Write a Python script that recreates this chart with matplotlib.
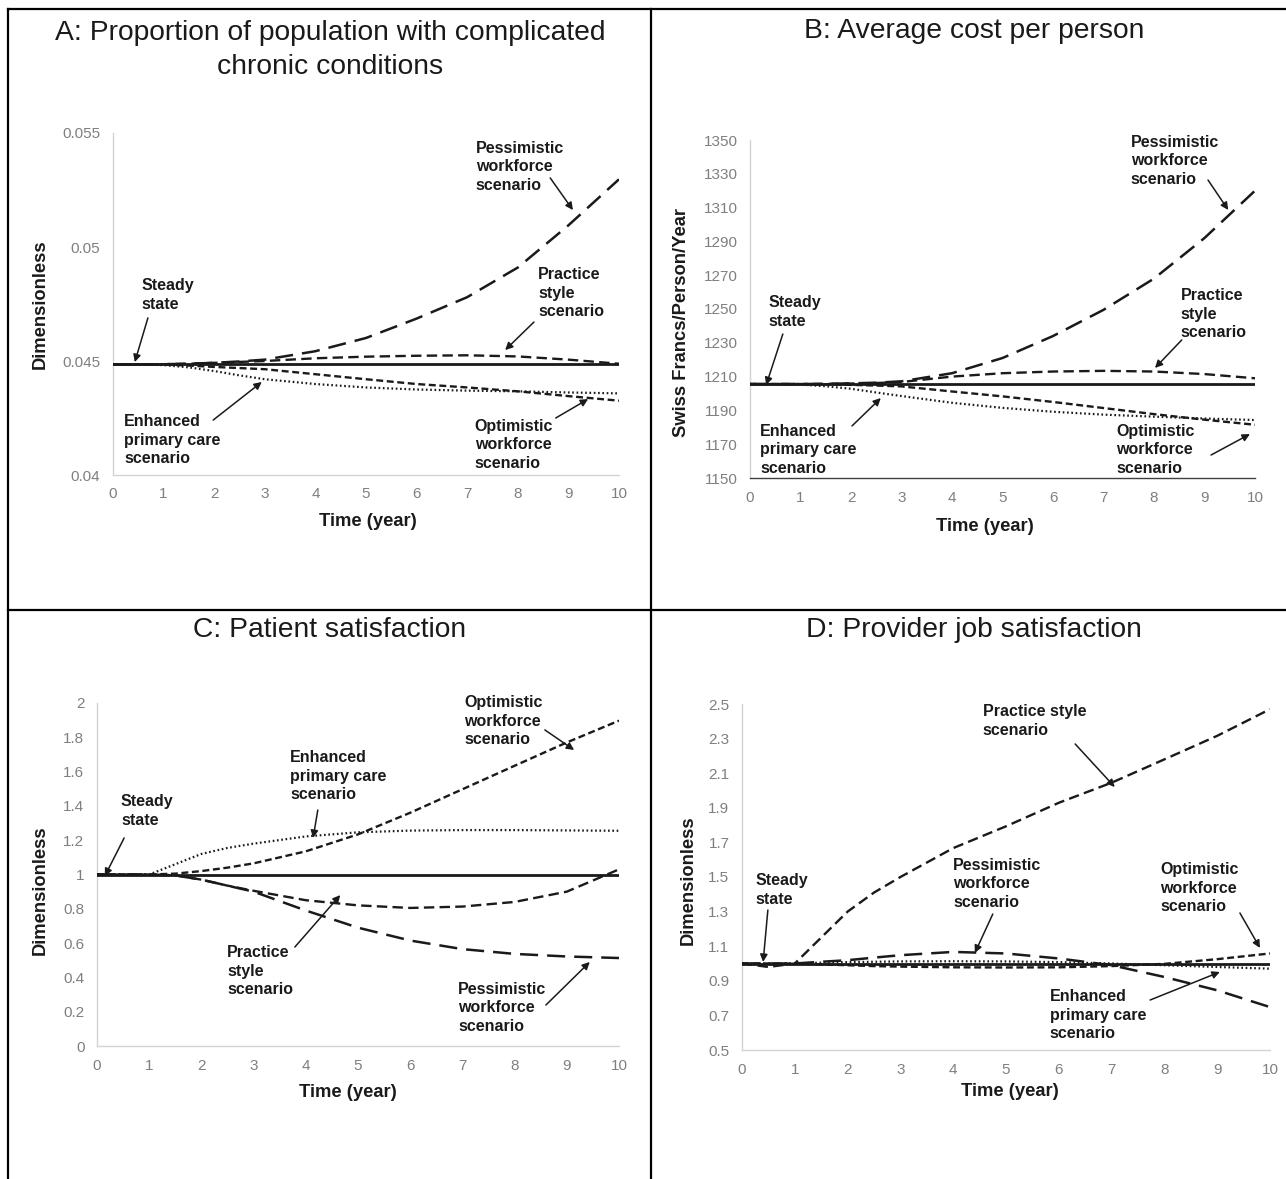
import numpy as np
import matplotlib
matplotlib.use('Agg')
import matplotlib.pyplot as plt
from matplotlib.lines import Line2D

plt.rcParams['font.family'] = ['Liberation Sans', 'DejaVu Sans']
plt.rcParams['lines.scale_dashes'] = False

#--------------------------------------------------------------------------------
# values
years = [0, 0.5, 1, 1.5, 2, 2.5, 3, 4, 5, 6, 7, 8, 9, 10]

# A: proportion with complicated chronic conditions
a_steady   = [0.04485]*14
a_pess     = [0.04485, 0.04485, 0.04486, 0.04488, 0.04492, 0.04498, 0.04506,
              0.04543, 0.04601, 0.04686, 0.04780, 0.04910, 0.05095, 0.05297]
a_practice = [0.04485, 0.04485, 0.04486, 0.04488, 0.04492, 0.04496, 0.04500,
              0.04512, 0.04519, 0.04523, 0.04525, 0.04520, 0.04506, 0.04488]
a_opt      = [0.04485, 0.04485, 0.04484, 0.04480, 0.04474, 0.04469, 0.04464,
              0.04442, 0.04420, 0.04399, 0.04384, 0.04367, 0.04346, 0.04326]
a_enh      = [0.04485, 0.04485, 0.04482, 0.04472, 0.04456, 0.04437, 0.04420,
              0.04399, 0.04384, 0.04375, 0.04370, 0.04367, 0.04362, 0.04358]

# B: average cost per person
b_steady   = [1205.6]*14
b_pess     = [1205.6, 1205.6, 1205.6, 1205.7, 1206.0, 1206.4, 1207.2,
              1212.0, 1221.0, 1234.0, 1249.5, 1268.0, 1292.0, 1320.0]
b_practice = [1205.6, 1205.6, 1205.6, 1205.7, 1205.9, 1206.2, 1206.8,
              1210.0, 1212.0, 1213.0, 1213.4, 1213.0, 1211.5, 1209.0]
b_opt      = [1205.6, 1205.6, 1205.6, 1205.4, 1205.1, 1204.7, 1204.2,
              1201.2, 1198.3, 1195.0, 1191.4, 1187.8, 1184.5, 1181.5]
b_enh      = [1205.6, 1205.6, 1205.3, 1204.3, 1202.8, 1200.6, 1198.5,
              1194.5, 1191.5, 1189.2, 1187.5, 1186.3, 1185.2, 1184.3]

# C: patient satisfaction
c_steady   = [1.0]*14
c_pess     = [1.0, 1.0, 1.0, 0.995, 0.97, 0.935, 0.90,
              0.79, 0.69, 0.615, 0.565, 0.537, 0.522, 0.513]
c_practice = [1.0, 1.0, 1.0, 0.995, 0.97, 0.935, 0.905,
              0.85, 0.82, 0.805, 0.813, 0.84, 0.90, 1.03]
c_opt      = [1.0, 1.0, 1.0, 1.005, 1.02, 1.04, 1.065,
              1.135, 1.234, 1.36, 1.497, 1.634, 1.77, 1.897]
c_enh      = [1.0, 1.0, 1.0, 1.06, 1.12, 1.155, 1.18,
              1.222, 1.246, 1.256, 1.259, 1.259, 1.257, 1.255]

# D: provider job satisfaction
d_steady   = [1.0]*14
d_pess     = [1.0, 1.0, 1.0, 1.01, 1.019, 1.034, 1.048,
              1.067, 1.058, 1.029, 0.99, 0.922, 0.845, 0.748]
d_practice = [1.0, 0.98, 1.0, 1.15, 1.30, 1.41, 1.50,
              1.667, 1.793, 1.929, 2.045, 2.18, 2.316, 2.47]
d_opt      = [1.0, 1.0, 1.0, 0.995, 0.99, 0.985, 0.982,
              0.978, 0.977, 0.978, 0.985, 0.998, 1.025, 1.058]
d_enh      = [1.0, 1.0, 1.0, 1.005, 1.008, 1.01, 1.012,
              1.013, 1.012, 1.008, 1.0, 0.99, 0.98, 0.97]

titles = ['A: Proportion of population with complicated\nchronic conditions',
          'B: Average cost per person',
          'C: Patient satisfaction',
          'D: Provider job satisfaction']
ylabels = ['Dimensionless', 'Swiss Francs/Person/Year',
           'Dimensionless', 'Dimensionless']
xlabel = 'Time (year)'

a_yticks = [0.04, 0.045, 0.05, 0.055]
a_yticklabels = ['0.04', '0.045', '0.05', '0.055']
b_yticks = list(range(1150, 1351, 20))
c_yticks = [0, 0.2, 0.4, 0.6, 0.8, 1, 1.2, 1.4, 1.6, 1.8, 2]
c_yticklabels = ['0', '0.2', '0.4', '0.6', '0.8', '1', '1.2', '1.4', '1.6', '1.8', '2']
d_yticks = [0.5, 0.7, 0.9, 1.1, 1.3, 1.5, 1.7, 1.9, 2.1, 2.3, 2.5]
d_yticklabels = ['0.5', '0.7', '0.9', '1.1', '1.3', '1.5', '1.7', '1.9', '2.1', '2.3', '2.5']
xticks = list(range(0, 11))

lab_pess = 'Pessimistic\nworkforce\nscenario'
lab_steady = 'Steady\nstate'
lab_practice = 'Practice\nstyle\nscenario'
lab_enh = 'Enhanced\nprimary care\nscenario'
lab_opt = 'Optimistic\nworkforce\nscenario'

#--------------------------------------------------------------------------------
W, H = 1286, 1179
INK = '#1a1a1a'
TICK = '#7f7f7f'

styles = {
  'steady':   dict(ls='-', lw=2.0, zorder=5),
  'pess':     dict(ls=(0, (13, 6.5)), lw=1.8, zorder=4),
  'practice': dict(ls=(0, (7.5, 3.8)), lw=1.7, zorder=4),
  'opt':      dict(ls=(0, (5, 2.6)), lw=1.7, zorder=4),
  'enh':      dict(ls=(0, (1.2, 1.9)), lw=1.6, zorder=4),
}

def px_rect(x0, x1, ytop, ybot):
  return [x0/W, 1 - ybot/H, (x1 - x0)/W, (ybot - ytop)/H]

def draw_lines(ax, series):
  for key, vals in series:
    ax.plot(years, vals, color=INK, **styles[key])

def style_axes(ax, ylim, yticks, yticklabels, ylabel, ylab_xy, xlab_xy, bottom_dark=False):
  ax.set_xlim(0, 10)
  ax.set_ylim(ylim)
  ax.set_xticks(xticks)
  ax.set_yticks(yticks)
  if yticklabels is not None:
    ax.set_yticklabels(yticklabels)
  for s in ['top', 'right']:
    ax.spines[s].set_visible(False)
  ax.spines['left'].set_color('#d4d4d4')
  ax.spines['bottom'].set_color('#404040' if bottom_dark else '#d4d4d4')
  ax.spines['left'].set_linewidth(1.0)
  ax.spines['bottom'].set_linewidth(1.0)
  ax.tick_params(length=0, labelsize=11, labelcolor=TICK, pad=9)
  ax.set_ylabel(ylabel, fontsize=13.2, fontweight='bold', color=INK)
  ax.set_xlabel(xlabel, fontsize=13.2, fontweight='bold', color=INK)
  ax.yaxis.set_label_coords(*ylab_xy)
  ax.xaxis.set_label_coords(*xlab_xy)

def note(ax, text, txy, tail, head):
  ax.text(txy[0], txy[1], text, fontsize=11.5, fontweight='bold', color=INK,
          ha='left', va='center', linespacing=1.3, zorder=6)
  ax.annotate('', xy=head, xytext=tail,
              arrowprops=dict(arrowstyle='-|>', color=INK, lw=1.1,
                              mutation_scale=11, shrinkA=0, shrinkB=0), zorder=6)

fig = plt.figure(figsize=(W/100.0, H/100.0), dpi=100)

# cell borders
fig.add_artist(Line2D([8/W, 1], [1 - 9/H, 1 - 9/H], color='black', lw=1.6))
fig.add_artist(Line2D([8/W, 1], [1 - 610/H, 1 - 610/H], color='black', lw=1.6))
fig.add_artist(Line2D([8/W, 8/W], [0, 1 - 9/H], color='black', lw=1.6))
fig.add_artist(Line2D([651/W, 651/W], [0, 1 - 9/H], color='black', lw=1.6))

# titles
fig.text(330/W, 1 - 50/H, titles[0], ha='center', va='center', fontsize=20.3,
         color=INK, linespacing=1.45)
fig.text(974/W, 1 - 31/H, titles[1], ha='center', va='center', fontsize=20.3, color=INK)
fig.text(330/W, 1 - 630/H, titles[2], ha='center', va='center', fontsize=20.3, color=INK)
fig.text(974/W, 1 - 630/H, titles[3], ha='center', va='center', fontsize=20.3, color=INK)

# A
ax = fig.add_axes(px_rect(113, 619, 133, 475))
draw_lines(ax, [('pess', a_pess), ('practice', a_practice), ('opt', a_opt),
                ('enh', a_enh), ('steady', a_steady)])
style_axes(ax, (0.04, 0.055), a_yticks, a_yticklabels, ylabels[0],
           (-0.126, 0.5), (0.504, -0.111))
note(ax, lab_pess, (7.17, 0.05351), (8.64, 0.05303), (9.09, 0.05162))
note(ax, lab_steady, (0.57, 0.04789), (0.69, 0.04689), (0.43, 0.04495))
note(ax, lab_practice, (8.40, 0.04798), (8.32, 0.04671), (7.75, 0.04548))
note(ax, lab_enh, (0.22, 0.04153), (1.98, 0.04241), (2.94, 0.04408))
note(ax, lab_opt, (7.15, 0.04132), (8.75, 0.04250), (9.39, 0.04333))

# B
ax = fig.add_axes(px_rect(750, 1255, 140, 478))
draw_lines(ax, [('pess', b_pess), ('practice', b_practice), ('opt', b_opt),
                ('enh', b_enh), ('steady', b_steady)])
style_axes(ax, (1150, 1350), b_yticks, None, ylabels[1],
           (-0.119, 0.46), (0.465, -0.118), bottom_dark=True)
note(ax, lab_pess, (7.54, 1337.6), (9.07, 1326.3), (9.47, 1308.6))
note(ax, lab_steady, (0.36, 1248.2), (0.65, 1235.2), (0.32, 1205.0))
note(ax, lab_practice, (8.53, 1247.0), (8.55, 1231.7), (8.02, 1215.1))
note(ax, lab_enh, (0.20, 1166.6), (2.02, 1180.8), (2.59, 1197.3))
note(ax, lab_opt, (7.25, 1166.6), (9.13, 1163.6), (9.90, 1176.0))

# C
ax = fig.add_axes(px_rect(97, 619, 703, 1046))
draw_lines(ax, [('pess', c_pess), ('practice', c_practice), ('opt', c_opt),
                ('enh', c_enh), ('steady', c_steady)])
style_axes(ax, (0, 2), c_yticks, c_yticklabels, ylabels[2],
           (-0.092, 0.455), (0.48, -0.111))
note(ax, lab_opt, (7.03, 1.895), (8.58, 1.843), (9.14, 1.726))
note(ax, lab_enh, (3.70, 1.574), (4.23, 1.376), (4.14, 1.213))
note(ax, lab_steady, (0.46, 1.370), (0.52, 1.213), (0.15, 0.991))
note(ax, lab_practice, (2.49, 0.437), (3.79, 0.577), (4.66, 0.880))
note(ax, lab_pess, (6.92, 0.222), (8.60, 0.239), (9.44, 0.490))

# D
ax = fig.add_axes(px_rect(742, 1270, 704, 1050))
draw_lines(ax, [('pess', d_pess), ('practice', d_practice), ('opt', d_opt),
                ('enh', d_enh), ('steady', d_steady)])
style_axes(ax, (0.5, 2.5), d_yticks, d_yticklabels, ylabels[3],
           (-0.085, 0.49), (0.507, -0.095))
note(ax, 'Practice style\nscenario', (4.56, 2.402), (6.31, 2.269), (7.06, 2.020))
note(ax, lab_pess, (4.00, 1.460), (4.75, 1.286), (4.41, 1.061))
note(ax, lab_steady, (0.25, 1.425), (0.49, 1.309), (0.40, 1.009))
note(ax, lab_opt, (7.92, 1.436), (9.43, 1.292), (9.81, 1.090))
note(ax, lab_enh, (5.83, 0.702), (7.73, 0.789), (9.05, 0.951))

fig.savefig('out.png', dpi=100)
